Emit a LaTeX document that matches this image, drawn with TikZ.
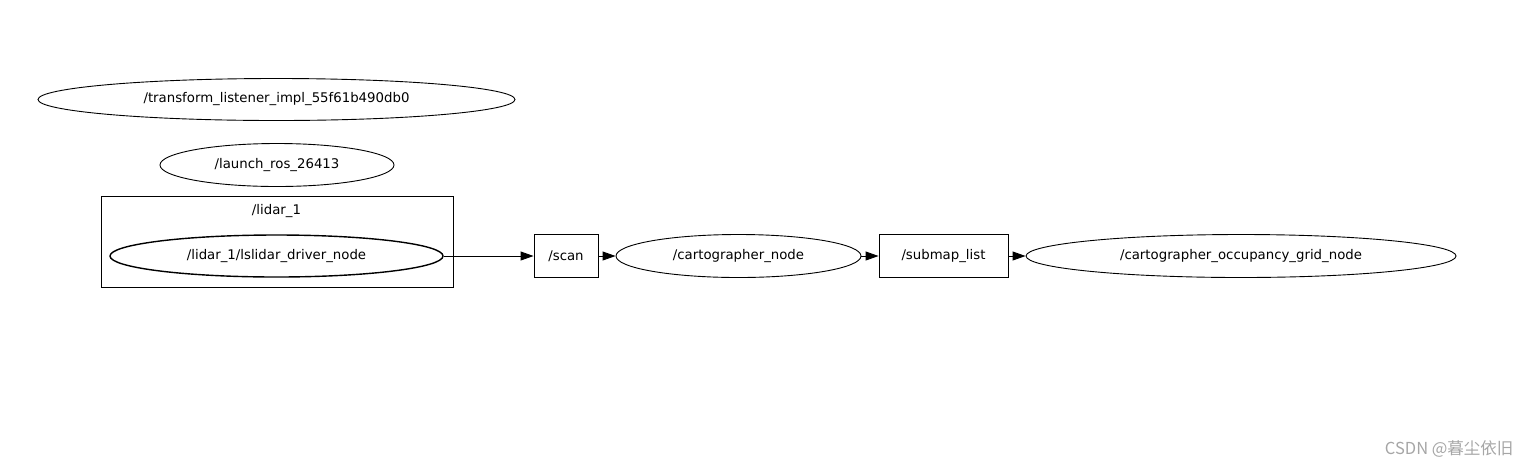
\documentclass[tikz,border=0pt]{standalone}
\usepackage{fontspec}
\setmainfont{DejaVu Sans}
\newfontfamily\cjkfont{Noto Sans CJK SC}
\usepackage{xcolor}
\usetikzlibrary{arrows.meta,positioning,shapes.geometric}
\definecolor{ink}{HTML}{000000}
\definecolor{markgray}{HTML}{A6A6A6}
\tikzset{
  >={Triangle[length=13pt,width=9pt]},
  rosnode/.style={ellipse,draw=ink,line width=.9pt,inner sep=0pt,font=\fontsize{13.3}{15}\selectfont},
  topicbox/.style={rectangle,draw=ink,line width=.9pt,inner sep=0pt,minimum height=43pt,font=\fontsize{13.3}{15}\selectfont},
  cluster/.style={rectangle,draw=ink,line width=.9pt,inner sep=0pt},
  pub/.style={->,line width=.9pt,color=ink},
}

\begin{document}
\begin{tikzpicture}[x=1pt,y=-1pt]
  \useasboundingbox (0,0) rectangle (1531,467);

  % nodes without connections
  \node[rosnode,minimum width=477pt,minimum height=42pt] (tfl) at (276.5,99.5) {/transform\_listener\_impl\_55f61b490db0};
  \node[rosnode,minimum width=234pt,minimum height=43pt] (launch) at (277,165) {/launch\_ros\_26413};

  % namespace cluster
  \node[cluster,minimum width=352pt,minimum height=91pt] (lidarbox) at (277,241.5) {};
  \node[font=\fontsize{13.3}{15}\selectfont] (lidarlabel) at (276.5,211) {/lidar\_1};
  \node[rosnode,line width=1.4pt,minimum width=333pt,minimum height=42pt] (driver) at (276.5,256) {/lidar\_1/lslidar\_driver\_node};

  % pipeline
  \node[topicbox,minimum width=64pt] (scan) at (566,256) {/scan};
  \node[rosnode,minimum width=245pt,minimum height=43pt] (carto) at (738.5,256) {/cartographer\_node};
  \node[topicbox,minimum width=129pt] (submap) at (943.5,256) {/submap\_list};
  \node[rosnode,minimum width=430pt,minimum height=43pt] (grid) at (1241,256) {/cartographer\_occupancy\_grid\_node};

  \draw[pub] (driver.east) -- (scan.west);
  \draw[pub] (scan.east) -- (carto.west);
  \draw[pub] (carto.east) -- (submap.west);
  \draw[pub] (submap.east) -- (grid.west);

  \node[font=\fontsize{16.5}{18}\cjkfont,text=markgray,anchor=east] (mark) at (1517,449) {CSDN @暮尘依旧};
\end{tikzpicture}
\end{document}
